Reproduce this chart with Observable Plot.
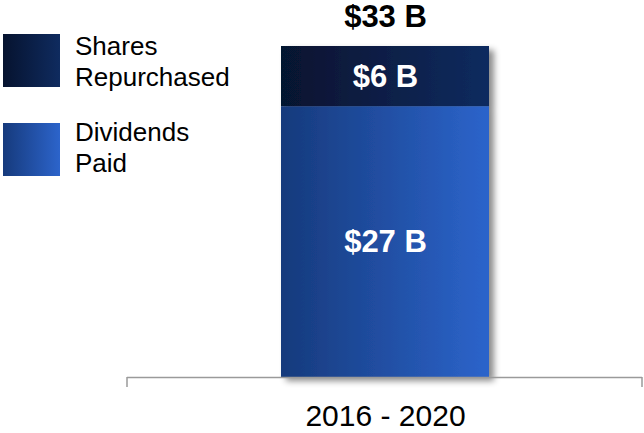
<!DOCTYPE html>
<html>
<head>
<meta charset="utf-8">
<script src="https://cdn.jsdelivr.net/npm/d3@7"></script>
<script src="https://cdn.jsdelivr.net/npm/@observablehq/plot@0.6"></script>
<style>
  html, body { margin: 0; padding: 0; background: #fff; }
  #wrap { position: relative; width: 644px; height: 433px; font-family: "Liberation Sans", Arial, sans-serif; }
  #wrap svg { position: absolute; left: 0; top: 0; }
  .legend { position: absolute; left: 0; top: 0; }
  .sw { position: absolute; left: 3px; width: 57px; height: 53px; }
  .lt { position: absolute; left: 75px; font-size: 26px; line-height: 31px; color: #000; white-space: nowrap; }
</style>
</head>
<body>
<div id="wrap"></div>
<script>
// ---- data ----
const categories = ["2016 - 2020"];
const series = ["Dividends Paid", "Shares Repurchased"];
const values = [27, 6];
const valueLabels = ["$27 B", "$6 B"];
const totalLabels = ["$33 B"];
const legendSeries = ["Shares Repurchased", "Dividends Paid"];
const legendLines = [["Shares", "Repurchased"], ["Dividends", "Paid"]];

// colours (left → right gradient stops)
const gradStops = {
  "Dividends Paid": ["#163a7c", "#2c64cb"],
  "Shares Repurchased": ["#06132f", "#0f2b5f"]
};
const gradIds = {"Dividends Paid": "gradDiv", "Shares Repurchased": "gradShares"};

const data = series.map((s, i) => ({category: categories[0], series: s, value: values[i], label: valueLabels[i]}));
const total = d3.sum(values);
const totals = categories.map((c, i) => ({category: c, total: d3.sum(data.filter(d => d.category === c), d => d.value), label: totalLabels[i]}));

const chart = Plot.plot({
  width: 644,
  height: 433,
  marginLeft: 127,
  marginRight: 2,
  marginTop: 46,
  marginBottom: 56,
  style: {fontFamily: "'Liberation Sans', Arial, sans-serif", background: "transparent", color: "#000"},
  x: {domain: categories, padding: 0.425, label: null},
  y: {domain: [0, total], axis: null},
  color: {domain: series, range: series.map(s => `url(#${gradIds[s]})`)},
  marks: [
    Plot.barY(data, {x: "category", y: "value", fill: "series"}),
    Plot.ruleY([0], {stroke: "#9a9a9a", strokeWidth: 1.5}),
    Plot.axisX({tickSize: 0, tickPadding: 27, fontSize: 30, fill: "#000", label: null}),
    Plot.text(data, Plot.stackY({x: "category", y: "value", text: "label", fill: "white", fontWeight: "bold", fontSize: 31})),
    Plot.text(totals, {x: "category", y: "total", text: "label", dy: -29, fill: "black", fontWeight: "bold", fontSize: 31})
  ]
});

const svg = d3.select(chart);
const defs = svg.insert("defs", ":first-child");
for (const s of series) {
  const g = defs.append("linearGradient").attr("id", gradIds[s]).attr("x1", "0").attr("x2", "1").attr("y1", "0").attr("y2", "0");
  g.append("stop").attr("offset", "0").attr("stop-color", gradStops[s][0]);
  g.append("stop").attr("offset", "1").attr("stop-color", gradStops[s][1]);
}
const f = defs.append("filter").attr("id", "barShadow").attr("x", "-10%").attr("y", "-10%").attr("width", "130%").attr("height", "130%");
f.append("feDropShadow").attr("dx", 5).attr("dy", 4).attr("stdDeviation", 3).attr("flood-color", "#000").attr("flood-opacity", 0.45);
svg.select('g[aria-label="bar"]').attr("filter", "url(#barShadow)");

// end ticks of the category axis
const xr = chart.scale("x").range;
const y0 = chart.scale("y").apply(0);
const tg = svg.append("g").attr("stroke", "#9a9a9a").attr("stroke-width", 1.5);
for (const xv of xr) {
  tg.append("line").attr("x1", xv).attr("x2", xv).attr("y1", y0).attr("y2", y0 + 10);
}

const wrap = document.getElementById("wrap");
wrap.appendChild(chart);

// legend
const legendTops = [34, 123];
const textTops = [30.5, 117];
const legend = d3.select(wrap).append("div").attr("class", "legend");
legendSeries.forEach((s, i) => {
  legend.append("div").attr("class", "sw")
    .style("top", legendTops[i] + "px")
    .style("background", `linear-gradient(to right, ${gradStops[s][0]}, ${gradStops[s][1]})`);
  legend.append("div").attr("class", "lt")
    .style("top", textTops[i] + "px")
    .html(legendLines[i].join("<br>"));
});
</script>
</body>
</html>
